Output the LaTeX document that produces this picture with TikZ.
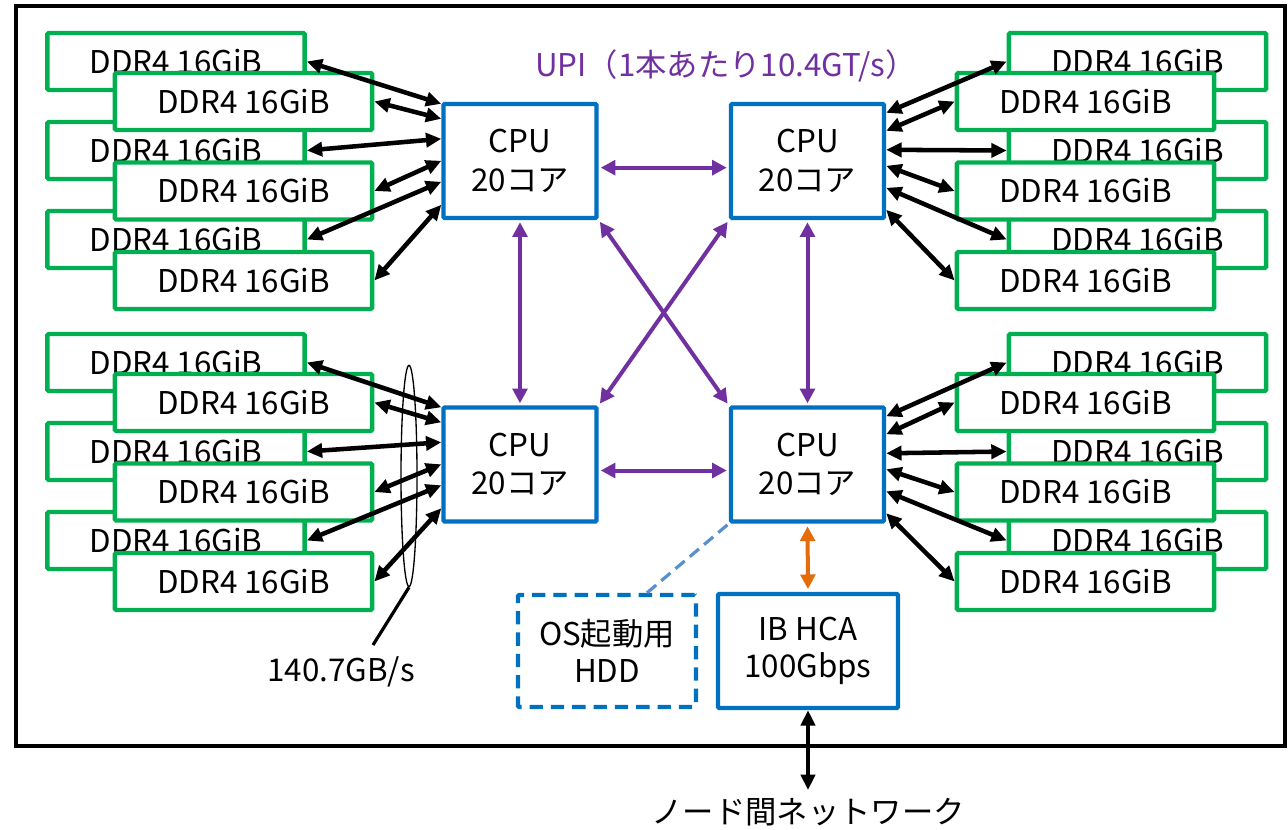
\documentclass[tikz,border=0pt]{standalone}
\usepackage{fontspec}
\setmainfont{Noto Sans CJK JP}
\usetikzlibrary{arrows.meta,shapes.geometric,calc}
\definecolor{ddrgreen}{HTML}{00B050}
\definecolor{cpublue}{HTML}{0070C0}
\definecolor{upipurple}{HTML}{7030A0}
\definecolor{iborange}{HTML}{E46C0A}
\definecolor{hddline}{HTML}{5B8FCB}
\newcommand\dfont{\fontsize{23.5}{29}\selectfont}
\begin{document}
\begin{tikzpicture}[x=0.75pt,y=-0.75pt,
  every node/.style={font=\dfont},
  ddr/.style={draw=ddrgreen,line width=3.3pt,fill=white,minimum width=193pt,minimum height=42.75pt,inner sep=0pt,rounded corners=1pt},
  cpu/.style={draw=cpublue,line width=3.3pt,fill=white,minimum width=114.75pt,minimum height=85.5pt,inner sep=0pt,align=center,rounded corners=1pt},
  hddbox/.style={draw=cpublue,line width=3.3pt,dash pattern=on 10pt off 6pt,minimum width=133.5pt,minimum height=84pt,inner sep=0pt,align=center,font=\fontsize{23.5}{27.5}\selectfont,rounded corners=1pt},
  ibbox/.style={draw=cpublue,line width=3.3pt,minimum width=135pt,minimum height=85.5pt,inner sep=0pt,align=center,font=\fontsize{23.5}{27.5}\selectfont,rounded corners=1pt},
  mem/.style={line width=3.4pt,{Triangle[length=11.5pt,width=10.5pt]}-{Triangle[length=11.5pt,width=10.5pt]}},
  upi/.style={draw=upipurple,line width=3pt,{Triangle[length=11pt,width=11pt]}-{Triangle[length=11pt,width=11pt]},shorten <=1.5pt,shorten >=1.5pt},
  ibarrow/.style={draw=iborange,line width=3pt,{Triangle[length=11pt,width=11pt]}-{Triangle[length=11pt,width=11pt]},shorten <=2pt,shorten >=2pt},
  hddlink/.style={draw=hddline,line width=2.4pt,dash pattern=on 9pt off 5pt}
]
\useasboundingbox (0,0) rectangle (1288,829);
\draw[line width=3.3pt] (16,6) rectangle (1285,746);

% back DDR boxes
\foreach \g/\x/\dy in {tl/176/0, bl/176/301, tr/1137.5/0, br/1137.5/301}
  \foreach \k in {0,1,2}
    \node[ddr] (\g-b\k) at (\x, 61.5+89*\k+\dy) {DDR4 16GiB};
% front DDR boxes
\foreach \g/\x/\dy in {tl/243.5/0, bl/243.5/301, tr/1085.5/0, br/1085.5/301}
  \foreach \k in {0,1,2}
    \node[ddr] (\g-f\k) at (\x, 101.5+89.5*\k+\dy) {DDR4 16GiB};

% CPUs
\node[cpu] (c1) at (520,161) {CPU\\20コア};
\node[cpu] (c2) at (807.5,161) {CPU\\20コア};
\node[cpu] (c3) at (520,464.5) {CPU\\20コア};
\node[cpu] (c4) at (807.5,464.5) {CPU\\20コア};

% memory links
\foreach \k/\yb/\yf in {0/1.5/12.75, 1/27.75/44.25, 2/60/77.25} {
  \draw[mem] (tl-b\k.east) -- ([yshift={-\yb pt}]c1.north west);
  \draw[mem] (tl-f\k.east) -- ([yshift={-\yf pt}]c1.north west);
  \draw[mem] (bl-b\k.east) -- ([yshift={-\yb pt}]c3.north west);
  \draw[mem] (bl-f\k.east) -- ([yshift={-\yf pt}]c3.north west);
}
\foreach \k/\yb/\yf in {0/8.25/21.75, 1/36/48, 2/64.5/81} {
  \draw[mem] (tr-b\k.west) -- ([yshift={-\yb pt}]c2.north east);
  \draw[mem] (tr-f\k.west) -- ([yshift={-\yf pt}]c2.north east);
  \draw[mem] (br-b\k.west) -- ([yshift={-\yb pt}]c4.north east);
  \draw[mem] (br-f\k.west) -- ([yshift={-\yf pt}]c4.north east);
}

% UPI links
\draw[upi] ([yshift=-5pt]c1.east) -- ([yshift=-5pt]c2.west);
\draw[upi] ([yshift=-4.5pt]c3.east) -- ([yshift=-4.5pt]c4.west);
\draw[upi] (c1.south) -- (c3.north);
\draw[upi] (c2.south) -- (c4.north);
\draw[upi] (c1.south east) -- (c4.north west);
\draw[upi] (c2.south west) -- (c3.north east);
\node[text=upipurple] (upilbl) at (726,66) {UPI（1本あたり10.4GT/s）};

% bandwidth ellipse
\node[ellipse,draw,line width=1pt,minimum width=12pt,minimum height=166pt,inner sep=0pt] (ell) at (409,476) {};
\coordinate (bwpt) at (373,645);
\draw[line width=2.4pt] (ell.south) -- (bwpt);
\node (bw) at (341,672) {140.7GB/s};

% HDD and IB
\node[hddbox] (hdd) at (607,651) {OS起動用\\HDD};
\node[ibbox] (ib) at (808,651) {IB HCA\\100Gbps};
\draw[hddlink] ([xshift=30pt]hdd.north) -- (c4.south west);
\draw[ibarrow] (c4.south) -- (ib.north);
\coordinate (net) at (808,790);
\draw[mem] (ib.south) -- (net);
\node (netlbl) at (808,812) {ノード間ネットワーク};
\end{tikzpicture}
\end{document}
